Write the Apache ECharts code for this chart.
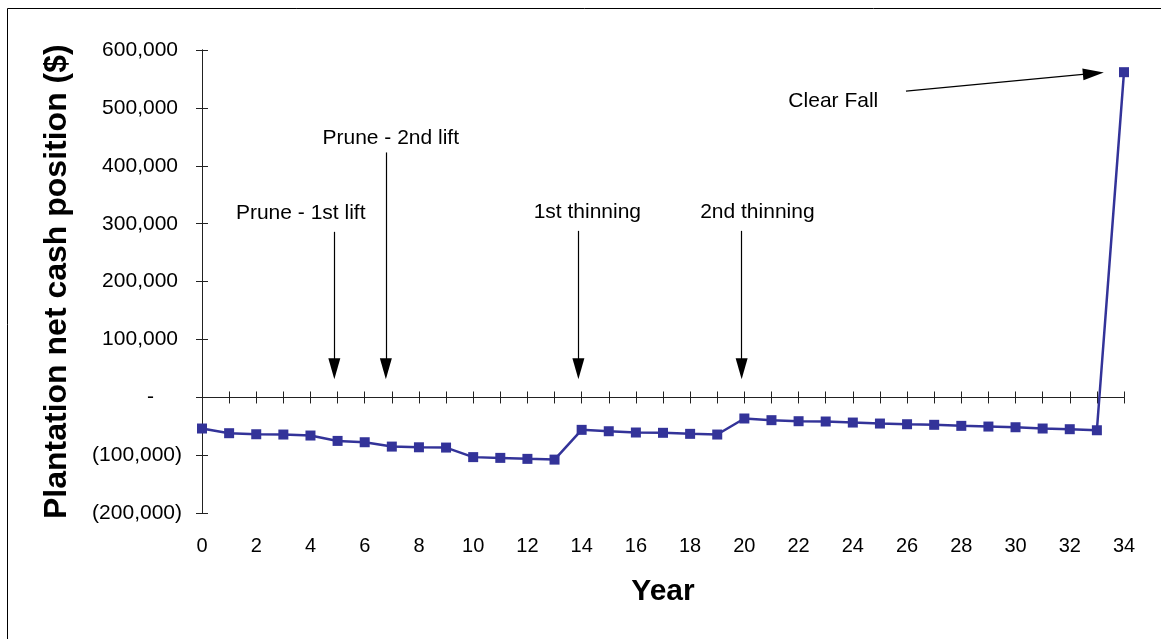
<!DOCTYPE html>
<html>
<head>
<meta charset="utf-8">
<script src="https://cdn.jsdelivr.net/npm/echarts@6/dist/echarts.min.js"></script>
<style>
html,body{margin:0;padding:0;background:#fff;}
#chart{width:1161px;height:639px;}
</style>
</head>
<body>
<div id="chart"></div>
<script>
// ---- data ----
var years = [0,1,2,3,4,5,6,7,8,9,10,11,12,13,14,15,16,17,18,19,20,21,22,23,24,25,26,27,28,29,30,31,32,33,34];
var netCash = [-53600,-61700,-63500,-64000,-65700,-75000,-77300,-84800,-86000,-86500,
  -103000,-104300,-106000,-107300,-55900,-58300,-60500,-61000,-62800,-64000,
  -36300,-39200,-41000,-41500,-43300,-45000,-46200,-47200,-49000,-50200,
  -51400,-53600,-54800,-56600,561700];

// annotation labels (data coordinates)
var noteText = ['Prune - 1st lift','Prune - 2nd lift','1st thinning','2nd thinning','Clear Fall'];
var noteX    = [3.64, 6.96, 14.21, 20.48, 23.28];
var noteY    = [318800, 447300, 320500, 320500, 512300];
// annotation arrows (start -> head)
var arrowFromX = [4.88, 6.78, 13.88, 19.9, 25.96];
var arrowFromY = [286000, 423100, 287700, 287700, 529000];
var arrowToX   = [4.88, 6.78, 13.88, 19.9, 32.87];
var arrowToY   = [49700, 49700, 49700, 49700, 559600];

var FONT = 'Liberation Sans, Arial, sans-serif';

function fmtNum(v){
  return Math.abs(v).toString().replace(/\B(?=(\d{3})+(?!\d))/g, ',');
}

var seriesData = years.map(function(y,i){ return [y, netCash[i]]; });
var notes = noteText.map(function(t,i){
  return {name:t, coord:[noteX[i], noteY[i]]};
});
var arrows = arrowFromX.map(function(x,i){
  return [
    {coord:[x, arrowFromY[i]], symbol:'none'},
    {coord:[arrowToX[i], arrowToY[i]], symbol:'triangle', symbolSize:[12,21]}
  ];
});

var axisColor = '#222';
var chart = echarts.init(document.getElementById('chart'), null, {renderer:'canvas'});
chart.setOption({
  animation:false,
  backgroundColor:'#fff',
  textStyle:{fontFamily:FONT},
  graphic:[{
    type:'rect', left:5, top:6, silent:true,
    shape:{width:1200, height:700},
    style:{fill:'none', stroke:'#000', lineWidth:1}
  }],
  grid:{left:202, right:37, top:50, bottom:125.7, containLabel:false},
  xAxis:[
    {type:'value', min:0, max:34, interval:1, position:'bottom',
     axisLine:{show:true, onZero:true, onZeroAxisIndex:0, lineStyle:{color:axisColor, width:1}},
     axisTick:{show:true, inside:false, length:6, lineStyle:{color:axisColor}},
     axisLabel:{show:false}, splitLine:{show:false}},
    {type:'value', min:0, max:34, interval:1, position:'bottom',
     axisLine:{show:true, onZero:true, onZeroAxisIndex:0, lineStyle:{color:axisColor, width:1}},
     axisTick:{show:true, inside:true, length:6, lineStyle:{color:axisColor}},
     axisLabel:{show:false}, splitLine:{show:false}},
    {type:'value', min:0, max:34, interval:2, position:'bottom',
     axisLine:{show:false, onZero:false}, axisTick:{show:false}, splitLine:{show:false},
     axisLabel:{show:true, margin:23, fontSize:20, color:'#000', fontFamily:FONT},
     name:'Year', nameLocation:'middle', nameGap:63,
     nameTextStyle:{fontSize:30, fontWeight:'bold', color:'#000', fontFamily:FONT}}
  ],
  yAxis:[
    {type:'value', min:-200000, max:600000, interval:100000, position:'left',
     axisLine:{show:true, lineStyle:{color:axisColor, width:1}},
     axisTick:{show:true, inside:false, length:6, lineStyle:{color:axisColor}},
     splitLine:{show:false},
     axisLabel:{show:true, margin:20, fontSize:21, color:'#000', fontFamily:FONT,
       formatter:function(v){
         if (v === 0) return '{d|-}';
         if (v < 0) return '(' + fmtNum(v) + ')';
         return '{p|' + fmtNum(v) + '}';
       },
       rich:{
         d:{fontSize:21, color:'#000', fontFamily:FONT, padding:[0,28,0,0]},
         p:{fontSize:21, color:'#000', fontFamily:FONT, padding:[0,4,0,0]}
       }},
     name:'Plantation net cash position ($)', nameLocation:'middle', nameGap:129, nameRotate:90,
     nameTextStyle:{fontSize:32, fontWeight:'bold', color:'#000', fontFamily:FONT}},
    {type:'value', min:-200000, max:600000, interval:100000, position:'left',
     axisLine:{show:true, lineStyle:{color:axisColor, width:1}},
     axisTick:{show:true, inside:true, length:6, lineStyle:{color:axisColor}},
     splitLine:{show:false}, axisLabel:{show:false}}
  ],
  series:[{
    type:'line', xAxisIndex:0, yAxisIndex:0,
    data:seriesData,
    symbol:'rect', symbolSize:10,
    lineStyle:{color:'#333399', width:2.5},
    itemStyle:{color:'#333399'},
    z:5,
    markLine:{
      silent:true, animation:false,
      symbol:['none','triangle'],
      lineStyle:{color:'#000', width:1.2, type:'solid'},
      itemStyle:{color:'#000'},
      label:{show:false},
      emphasis:{disabled:true},
      data:arrows
    },
    markPoint:{
      silent:true, animation:false,
      symbol:'rect', symbolSize:1,
      itemStyle:{color:'rgba(0,0,0,0)'},
      label:{show:true, position:'inside', formatter:'{b}', fontSize:21, color:'#000', fontFamily:FONT},
      data:notes
    }
  }]
});
</script>
</body>
</html>
